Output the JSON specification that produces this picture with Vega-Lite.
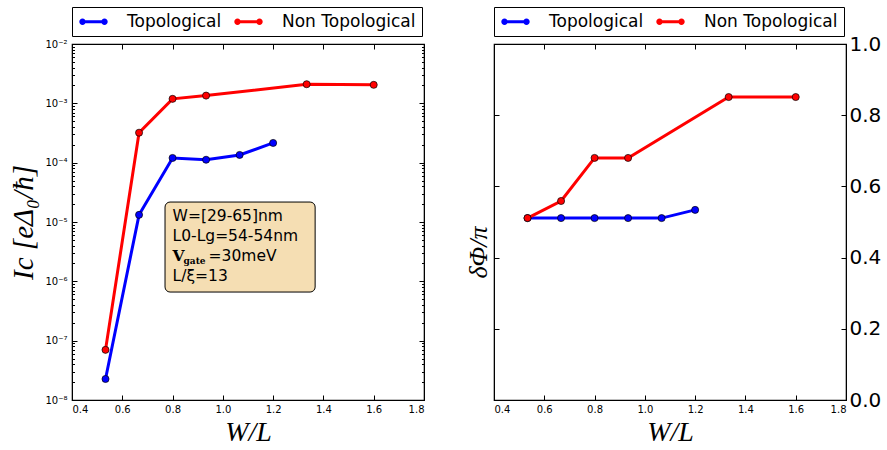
{
  "$schema": "https://vega.github.io/schema/vega-lite/v6.json",
  "background": "white",
  "padding": {"left": 9, "top": 5, "right": 5, "bottom": 5},
  "spacing": 38,
  "datasets": {
    "ic": [
      {"series": "Topological", "wl": 0.5333, "ic": 2.26e-8},
      {"series": "Topological", "wl": 0.6667, "ic": 1.32e-5},
      {"series": "Topological", "wl": 0.8, "ic": 1.2e-4},
      {"series": "Topological", "wl": 0.9333, "ic": 1.12e-4},
      {"series": "Topological", "wl": 1.0667, "ic": 1.35e-4},
      {"series": "Topological", "wl": 1.2, "ic": 2.15e-4},
      {"series": "Non Topological", "wl": 0.5333, "ic": 7.0e-8},
      {"series": "Non Topological", "wl": 0.6667, "ic": 3.2e-4},
      {"series": "Non Topological", "wl": 0.8, "ic": 1.19e-3},
      {"series": "Non Topological", "wl": 0.9333, "ic": 1.35e-3},
      {"series": "Non Topological", "wl": 1.3333, "ic": 2.1e-3},
      {"series": "Non Topological", "wl": 1.6, "ic": 2.05e-3}
    ],
    "phi": [
      {"series": "Topological", "wl": 0.5333, "phi": 0.511},
      {"series": "Topological", "wl": 0.6667, "phi": 0.511},
      {"series": "Topological", "wl": 0.8, "phi": 0.511},
      {"series": "Topological", "wl": 0.9333, "phi": 0.511},
      {"series": "Topological", "wl": 1.0667, "phi": 0.511},
      {"series": "Topological", "wl": 1.2, "phi": 0.534},
      {"series": "Non Topological", "wl": 0.5333, "phi": 0.511},
      {"series": "Non Topological", "wl": 0.6667, "phi": 0.559},
      {"series": "Non Topological", "wl": 0.8, "phi": 0.68},
      {"series": "Non Topological", "wl": 0.9333, "phi": 0.68},
      {"series": "Non Topological", "wl": 1.3333, "phi": 0.851},
      {"series": "Non Topological", "wl": 1.6, "phi": 0.851}
    ],
    "note": [{"line": 1}]
  },
  "config": {
    "font": "DejaVu Sans",
    "view": {"stroke": "black", "strokeWidth": 1.2},
    "axis": {"grid": false, "labelColor": "black", "tickColor": "black", "domainColor": "black", "labelFont": "DejaVu Sans", "labelFontSize": 10, "titleColor": "black", "titleFont": "Liberation Serif", "titleFontStyle": "italic", "titleFontWeight": "normal", "titleFontSize": 28},
    "legend": {
      "orient": "top", "direction": "horizontal", "offset": 7, "padding": 6,
      "strokeColor": "black", "fillColor": "white",
      "labelFont": "DejaVu Sans", "labelFontSize": 17, "labelColor": "black", "labelOffset": 32,
      "columnPadding": 11
    }
  },
  "resolve": {"scale": {"color": "independent"}},
  "hconcat": [
    {
      "width": 352, "height": 356,
      "resolve": {"axis": {"x": "independent", "y": "independent"}},
      "layer": [
        {
          "data": {"name": "ic"},
          "mark": {"type": "line", "strokeWidth": 3},
          "encoding": {
            "x": {"field": "wl", "type": "quantitative", "scale": {"domain": [0.4, 1.8], "nice": false, "zero": false},
              "axis": {"orient": "bottom", "values": [0.4, 0.6, 0.8, 1.0, 1.2, 1.4, 1.6, 1.8], "format": ".1f", "tickSize": -5, "labelPadding": 9, "title": "W/L", "titlePadding": 4}},
            "y": {"field": "ic", "type": "quantitative", "scale": {"type": "log", "domain": [1e-8, 1e-2], "nice": false},
              "axis": {"orient": "left", "title": "Ic [eΔ₀/ħ]", "titleFontSize": 29, "titlePadding": 6,
                "values": [1e-8,2e-8,3e-8,4e-8,5e-8,6e-8,7e-8,8e-8,9e-8,1e-7,2e-7,3e-7,4e-7,5e-7,6e-7,7e-7,8e-7,9e-7,1e-6,2e-6,3e-6,4e-6,5e-6,6e-6,7e-6,8e-6,9e-6,1e-5,2e-5,3e-5,4e-5,5e-5,6e-5,7e-5,8e-5,9e-5,1e-4,2e-4,3e-4,4e-4,5e-4,6e-4,7e-4,8e-4,9e-4,1e-3,2e-3,3e-3,4e-3,5e-3,6e-3,7e-3,8e-3,9e-3,1e-2],
                "labelExpr": "abs(log(datum.value)/LN10 - round(log(datum.value)/LN10)) < 0.01 ? '10' + ['⁻⁸','⁻⁷','⁻⁶','⁻⁵','⁻⁴','⁻³','⁻²'][round(log(datum.value)/LN10)+8] : ''",
                "tickSize": {"condition": {"test": "abs(log(datum.value)/LN10 - round(log(datum.value)/LN10)) < 0.01", "value": -5}, "value": -2.5},
                "labelPadding": 10}},
            "color": {"field": "series", "type": "nominal", "sort": ["Topological", "Non Topological"], "scale": {"domain": ["Topological", "Non Topological"], "range": ["#0000ff", "#ff0000"]},
              "legend": {"title": null,
                "symbolType": "M-0.57,-0.22 L2.57,-0.22 L2.57,0.22 L-0.57,0.22 Z M-0.11,0 A0.46,0.46 0 1,1 -1.03,0 A0.46,0.46 0 1,1 -0.11,0 Z M3.03,0 A0.46,0.46 0 1,1 2.11,0 A0.46,0.46 0 1,1 3.03,0 Z",
                "symbolSize": 196, "symbolStrokeWidth": 0,
                "encode": {"symbols": {"update": {"fill": {"signal": "datum.value === 'Topological' ? '#0000ff' : '#ff0000'"}, "strokeWidth": {"value": 0}}}}}}
          }
        },
        {
          "data": {"name": "ic"},
          "mark": {"type": "point", "filled": true, "size": 50, "stroke": "black", "strokeWidth": 0.7, "opacity": 1},
          "encoding": {
            "x": {"field": "wl", "type": "quantitative", "axis": {"orient": "top", "values": [0.4, 0.6, 0.8, 1.0, 1.2, 1.4, 1.6, 1.8], "labels": false, "tickSize": -5, "title": null}},
            "y": {"field": "ic", "type": "quantitative",
              "axis": {"orient": "right", "labels": false, "title": null,
                "values": [1e-8,2e-8,3e-8,4e-8,5e-8,6e-8,7e-8,8e-8,9e-8,1e-7,2e-7,3e-7,4e-7,5e-7,6e-7,7e-7,8e-7,9e-7,1e-6,2e-6,3e-6,4e-6,5e-6,6e-6,7e-6,8e-6,9e-6,1e-5,2e-5,3e-5,4e-5,5e-5,6e-5,7e-5,8e-5,9e-5,1e-4,2e-4,3e-4,4e-4,5e-4,6e-4,7e-4,8e-4,9e-4,1e-3,2e-3,3e-3,4e-3,5e-3,6e-3,7e-3,8e-3,9e-3,1e-2],
                "tickSize": {"condition": {"test": "abs(log(datum.value)/LN10 - round(log(datum.value)/LN10)) < 0.01", "value": -5}, "value": -2.5}}},
            "color": {"field": "series", "type": "nominal"}
          }
        },
        {
          "data": {"name": "note"},
          "mark": {"type": "rect", "fill": "#f5deb3", "stroke": "black", "strokeWidth": 1, "cornerRadius": 5},
          "encoding": {
            "x": {"datum": 0.77, "type": "quantitative", "axis": null},
            "x2": {"datum": 1.367},
            "y": {"datum": 2.17e-5, "type": "quantitative", "axis": null},
            "y2": {"datum": 6.6e-7}
          }
        },
        {
          "data": {"name": "note"},
          "mark": {"type": "text", "align": "left", "baseline": "alphabetic", "fontSize": 15.5, "font": "DejaVu Sans", "color": "black"},
          "encoding": {
            "x": {"datum": 0.8, "type": "quantitative", "axis": null},
            "y": {"datum": 1.04e-5, "type": "quantitative", "axis": null},
            "text": {"value": "W=[29-65]nm"}
          }
        },
        {
          "data": {"name": "note"},
          "mark": {"type": "text", "align": "left", "baseline": "alphabetic", "fontSize": 15.5, "font": "DejaVu Sans", "color": "black", "dy": 20},
          "encoding": {
            "x": {"datum": 0.8, "type": "quantitative", "axis": null},
            "y": {"datum": 1.04e-5, "type": "quantitative", "axis": null},
            "text": {"value": "L0-Lg=54-54nm"}
          }
        },
        {
          "data": {"name": "note"},
          "mark": {"type": "text", "align": "left", "baseline": "alphabetic", "fontSize": 15.5, "font": "DejaVu Serif", "fontWeight": "bold", "color": "black", "dy": 40},
          "encoding": {
            "x": {"datum": 0.8, "type": "quantitative", "axis": null},
            "y": {"datum": 1.04e-5, "type": "quantitative", "axis": null},
            "text": {"value": "V"}
          }
        },
        {
          "data": {"name": "note"},
          "mark": {"type": "text", "align": "left", "baseline": "alphabetic", "fontSize": 9, "font": "DejaVu Serif", "fontWeight": "bold", "color": "black", "dx": 11, "dy": 43},
          "encoding": {
            "x": {"datum": 0.8, "type": "quantitative", "axis": null},
            "y": {"datum": 1.04e-5, "type": "quantitative", "axis": null},
            "text": {"value": "gate"}
          }
        },
        {
          "data": {"name": "note"},
          "mark": {"type": "text", "align": "left", "baseline": "alphabetic", "fontSize": 15.5, "font": "DejaVu Sans", "color": "black", "dx": 36, "dy": 40},
          "encoding": {
            "x": {"datum": 0.8, "type": "quantitative", "axis": null},
            "y": {"datum": 1.04e-5, "type": "quantitative", "axis": null},
            "text": {"value": "=30meV"}
          }
        },
        {
          "data": {"name": "note"},
          "mark": {"type": "text", "align": "left", "baseline": "alphabetic", "fontSize": 15.5, "font": "DejaVu Sans", "color": "black", "dy": 60},
          "encoding": {
            "x": {"datum": 0.8, "type": "quantitative", "axis": null},
            "y": {"datum": 1.04e-5, "type": "quantitative", "axis": null},
            "text": {"value": "L/ξ=13"}
          }
        }
      ]
    },
    {
      "width": 352, "height": 356,
      "data": {"name": "phi"},
      "resolve": {"axis": {"x": "independent", "y": "independent"}},
      "layer": [
        {
          "mark": {"type": "line", "strokeWidth": 3},
          "encoding": {
            "x": {"field": "wl", "type": "quantitative", "scale": {"domain": [0.4, 1.8], "nice": false, "zero": false},
              "axis": {"orient": "bottom", "values": [0.4, 0.6, 0.8, 1.0, 1.2, 1.4, 1.6, 1.8], "format": ".1f", "tickSize": -5, "labelPadding": 9, "title": "W/L", "titlePadding": 4}},
            "y": {"field": "phi", "type": "quantitative", "scale": {"domain": [0, 1], "nice": false},
              "axis": {"orient": "left", "values": [0, 0.2, 0.4, 0.6, 0.8, 1.0], "labels": false, "tickSize": -5, "title": "δΦ/π", "titleFontSize": 26, "titlePadding": 2, "titleY": 208}},
            "color": {"field": "series", "type": "nominal", "sort": ["Topological", "Non Topological"], "scale": {"domain": ["Topological", "Non Topological"], "range": ["#0000ff", "#ff0000"]},
              "legend": {"title": null,
                "symbolType": "M-0.57,-0.22 L2.57,-0.22 L2.57,0.22 L-0.57,0.22 Z M-0.11,0 A0.46,0.46 0 1,1 -1.03,0 A0.46,0.46 0 1,1 -0.11,0 Z M3.03,0 A0.46,0.46 0 1,1 2.11,0 A0.46,0.46 0 1,1 3.03,0 Z",
                "symbolSize": 196, "symbolStrokeWidth": 0,
                "encode": {"symbols": {"update": {"fill": {"signal": "datum.value === 'Topological' ? '#0000ff' : '#ff0000'"}, "strokeWidth": {"value": 0}}}}}}
          }
        },
        {
          "mark": {"type": "point", "filled": true, "size": 50, "stroke": "black", "strokeWidth": 0.7, "opacity": 1},
          "encoding": {
            "x": {"field": "wl", "type": "quantitative", "axis": {"orient": "top", "values": [0.4, 0.6, 0.8, 1.0, 1.2, 1.4, 1.6, 1.8], "labels": false, "tickSize": -5, "title": null}},
            "y": {"field": "phi", "type": "quantitative",
              "axis": {"orient": "right", "values": [0, 0.2, 0.4, 0.6, 0.8, 1.0], "format": ".1f", "labelFontSize": 20, "tickSize": -5, "labelPadding": 8, "labelFlush": false, "title": null}},
            "color": {"field": "series", "type": "nominal"}
          }
        }
      ]
    }
  ]
}
